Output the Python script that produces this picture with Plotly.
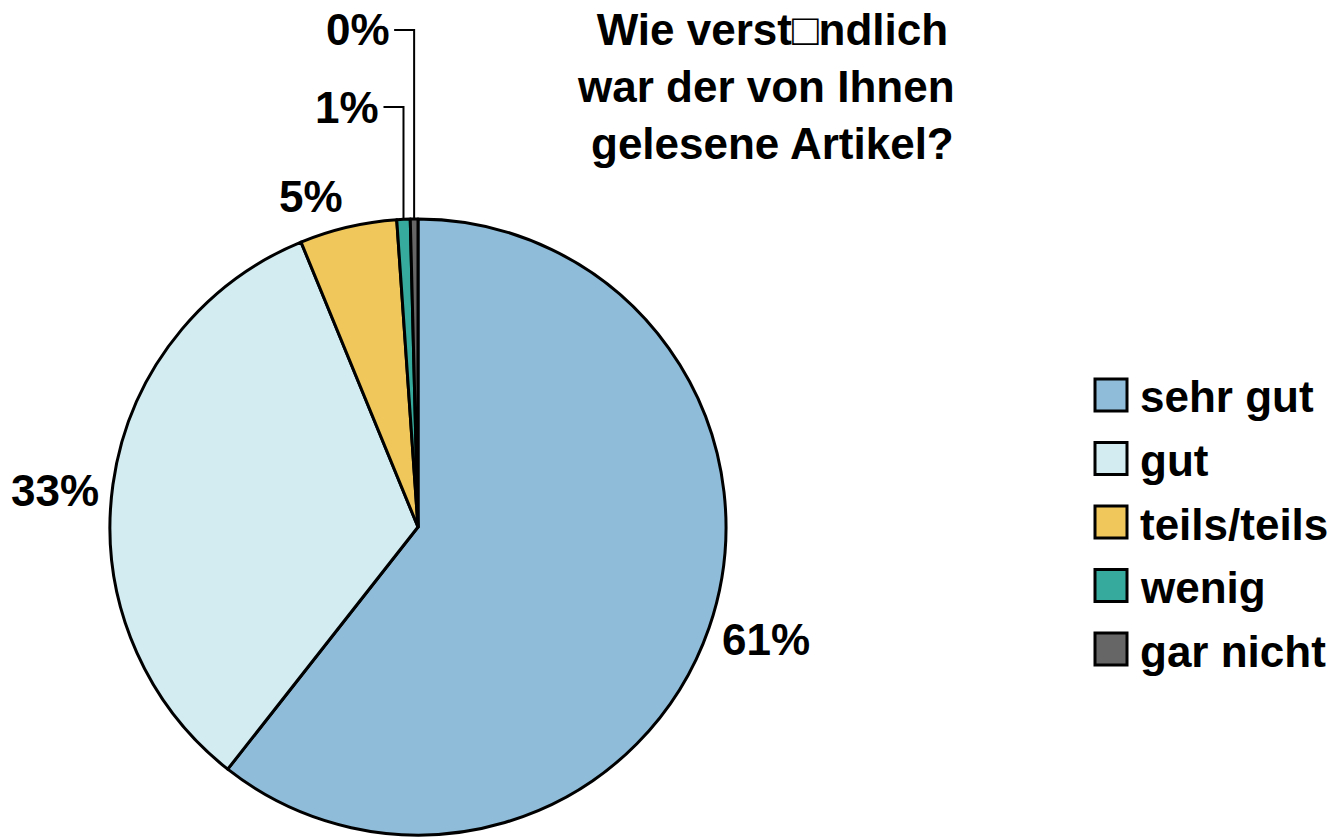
import math
import plotly.graph_objects as go

# ---- data ----
categories = ["sehr gut", "gut", "teils/teils", "wenig", "gar nicht"]
values = [60.6, 33.2, 5.1, 0.7, 0.4]
colors = ["#8FBDD9", "#D2ECF2", "#F0C75A", "#36AA9C", "#666666"]
title_lines = ["Wie verst\u25a1ndlich", "war der von Ihnen ", "gelesene Artikel?"]

# ---- layout constants (pixels) ----
W, H = 1339, 839
CX, CY, R = 418, 527, 308
FONT = "Liberation Sans, Arial, Helvetica, sans-serif"
FS = 44
leader_label_y = {3: 107, 4: 30}  # labels lifted with leader lines


def px(x):
    return x / W


def py(y):
    return 1 - y / H


fig = go.Figure()
fig.add_trace(go.Pie(
    labels=categories,
    values=values,
    marker=dict(colors=colors, line=dict(color="black", width=3)),
    sort=False,
    direction="clockwise",
    rotation=0,
    textinfo="none",
    hoverinfo="skip",
    showlegend=False,
    domain=dict(x=[px(CX - R), px(CX + R)], y=[py(CY + R), py(CY - R)]),
))

total = sum(values)
annotations = []
shapes = []
cum = 0.0
for i, v in enumerate(values):
    mid = (cum + v / 2) / total
    cum += v
    th = 2 * math.pi * mid
    s, c = math.sin(th), math.cos(th)
    pct = f"{round(v / total * 100)}%"
    if i in leader_label_y:
        x0 = CX + R * s
        y0 = CY - R * c
        ly = leader_label_y[i]
        shapes.append(dict(
            type="path", xref="paper", yref="paper",
            path=f"M {px(x0)},{py(y0)} L {px(x0)},{py(ly)} L {px(x0 - 20)},{py(ly)}",
            line=dict(color="black", width=2),
        ))
        annotations.append(dict(
            x=px(x0 - 22), y=py(ly), xref="paper", yref="paper",
            xanchor="right", yanchor="middle", showarrow=False,
            text=f"<b>{pct}</b>", font=dict(family=FONT, size=FS, color="black"),
        ))
    else:
        rl = R + 12
        lx = CX + rl * s
        ly = CY - rl * c
        xa = "left" if s > 0 else "right"
        if c > 0.7:
            ya = "bottom"
        elif c < -0.7:
            ya = "top"
        else:
            ya = "middle"
        annotations.append(dict(
            x=px(lx), y=py(ly + 8), xref="paper", yref="paper",
            xanchor=xa, yanchor=ya, showarrow=False,
            text=f"<b>{pct}</b>", font=dict(family=FONT, size=FS, color="black"),
        ))

# title
annotations.append(dict(
    x=px(772), y=py(3), xref="paper", yref="paper",
    xanchor="center", yanchor="top", align="center", showarrow=False,
    text="<b>" + "<br>".join(title_lines) + "</b>",
    font=dict(family=FONT, size=FS, color="black"),
))

# legend (manual, large swatches)
LEG_X, LEG_Y0, LEG_DY, SW = 1095, 379, 63.5, 32
for i, (cat, col) in enumerate(zip(categories, colors)):
    top = LEG_Y0 + i * LEG_DY
    shapes.append(dict(
        type="rect", xref="paper", yref="paper",
        x0=px(LEG_X), x1=px(LEG_X + SW), y0=py(top + SW), y1=py(top),
        fillcolor=col, line=dict(color="black", width=3),
    ))
    annotations.append(dict(
        x=px(1138), y=py(top + SW / 2 + 2), xref="paper", yref="paper",
        xanchor="left", yanchor="middle", showarrow=False,
        text=f"<b>{cat}</b>", font=dict(family=FONT, size=FS, color="black"),
    ))

fig.update_layout(
    width=W, height=H,
    margin=dict(l=0, r=0, t=0, b=0),
    paper_bgcolor="white", plot_bgcolor="white",
    showlegend=False,
    annotations=annotations,
    shapes=shapes,
)

fig.write_html("out.html")
